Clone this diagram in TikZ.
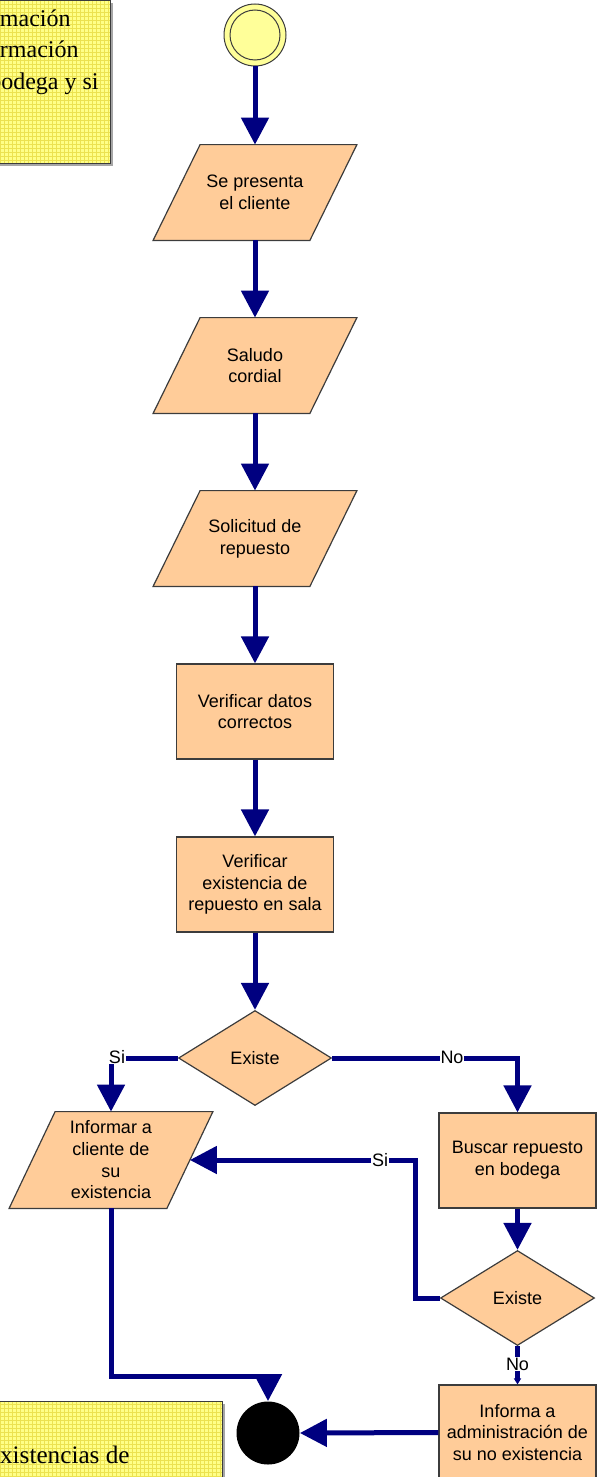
\documentclass[tikz,border=0pt]{standalone}
\usepackage{fontspec}
\setmainfont{Liberation Serif}
\setsansfont{Liberation Sans}
\usetikzlibrary{arrows.meta,shapes.geometric,backgrounds}

\definecolor{flowblue}{RGB}{0,0,128}
\definecolor{boxfill}{RGB}{255,204,153}
\definecolor{boxline}{RGB}{60,60,60}
\definecolor{notefill}{RGB}{255,255,135}
\definecolor{notegrid}{RGB}{236,226,80}
\definecolor{startfill}{RGB}{255,255,153}

\tikzset{
  boxfont/.style={font=\sffamily\fontsize{9}{10.85}\selectfont},
  stepbox/.style={rectangle, draw=boxline, line width=0.6pt, fill=boxfill,
    minimum width=78.5pt, minimum height=47.5pt, inner sep=0pt, align=center, boxfont},
  iobox/.style={rectangle, minimum width=78pt, minimum height=47.5pt,
    inner sep=0pt, align=center, boxfont},
  decision/.style={diamond, draw=boxline, line width=0.6pt, fill=boxfill,
    minimum width=76.5pt, minimum height=47.5pt, inner sep=0pt, boxfont},
  flowline/.style={draw=flowblue, line width=2.5pt},
  flow/.style={flowline, -{Triangle[width=13.5pt,length=13.5pt]}},
  flowsmall/.style={draw=flowblue, line width=2.2pt, -{Triangle[width=3.5pt,length=3pt]}},
  lbl/.style={fill=white, inner sep=0.4pt, boxfont},
  notetext/.style={inner sep=0pt, font=\fontsize{12}{14}\selectfont},
}

% slanted input/output frame drawn behind a rectangular text node
\newcommand\slantframe[2]{%
  \begin{pgfonlayer}{background}
    \filldraw[draw=boxline, line width=0.6pt, fill=boxfill]
      ([xshift=-#2]#1.south west) -- ([xshift=#2]#1.north west) --
      ([xshift=#2]#1.north east) -- ([xshift=-#2]#1.south east) -- cycle;
  \end{pgfonlayer}}

\begin{document}
\begin{tikzpicture}[x=0.5pt, y=-0.5pt]
\useasboundingbox (0,0) rectangle (597,1477);
\clip (0,0) rectangle (597,1477);

% notes
\fill[gray!70] (-40,3) rectangle (113,166);
\fill[notefill] (-40,0) rectangle (110,163);
\draw[notegrid, line width=0.25pt] (-40,0) grid[step=2pt] (110,163);
\draw[boxline, line width=0.4pt] (-40,0) rectangle (110,163);
\node[notetext, anchor=base east] (na) at (71,27) {mación};
\node[notetext, anchor=base east] (nb) at (79,58) {rmación};
\node[notetext, anchor=base east] (nc) at (99,90) {bodega y si};

\fill[gray!70] (-40,1404) rectangle (225,1500);
\fill[notefill] (-40,1401) rectangle (222,1500);
\draw[notegrid, line width=0.25pt] (-40,1401) grid[step=2pt] (222,1500);
\draw[boxline, line width=0.4pt] (-40,1401) rectangle (222,1500);
\node[notetext, font=\fontsize{12.6}{14}\selectfont, anchor=base east] (nd) at (130,1463) {xistencias de};

% start
\node[circle, draw=boxline, line width=0.5pt, fill=startfill, minimum size=31pt, inner sep=0pt] (start) at (255,35) {};
\node[circle, draw=boxline, line width=0.5pt, minimum size=25pt, inner sep=0pt] (startin) at (start) {};

% main column
\node[iobox] (p1) at (255,192.5) {Se presenta\\el cliente};
\slantframe{p1}{11.75pt}
\node[iobox] (p2) at (255,365.5) {Saludo\\cordial};
\slantframe{p2}{11.75pt}
\node[iobox] (p3) at (255,538.5) {Solicitud de\\repuesto};
\slantframe{p3}{11.75pt}
\node[stepbox] (r1) at (255,711.5) {Verificar datos\\correctos};
\node[stepbox] (r2) at (255,884.5) {Verificar\\existencia de\\repuesto en sala};
\node[decision] (d1) at (255,1058) {Existe};

% branches
\node[iobox, minimum width=78.5pt, minimum height=48pt] (p4) at (111,1160) {Informar a\\cliente de\\su\\existencia};
\slantframe{p4}{11.5pt}
\node[stepbox] (r3) at (517.5,1160.5) {Buscar repuesto\\en bodega};
\node[decision, minimum width=77pt] (d2) at (517.5,1298) {Existe};
\node[stepbox] (r4) at (517.5,1432.5) {Informa a\\administración de\\su no existencia};
\node[circle, fill=black, minimum size=31.5pt, inner sep=0pt] (stop) at (268,1433) {};

% connectors
\draw[flow] (start.south) -- (p1.north);
\draw[flow] (p1.south) -- (p2.north);
\draw[flow] (p2.south) -- (p3.north);
\draw[flow] (p3.south) -- (r1.north);
\draw[flow] (r1.south) -- (r2.north);
\draw[flow] (r2.south) -- (d1.north);

\draw[flow] (d1.west) -| (p4.north);
\node[lbl] (si1) at (117,1057) {Si};
\draw[flow] (d1.east) -| (r3.north);
\node[lbl] (no1) at (452,1057) {No};

\draw[flow] (r3.south) -- (d2.north);
\coordinate (bend) at (415,1160);
\draw[flow] (d2.west) -| (bend) -- (p4.east);
\node[lbl] (si2) at (380,1160) {Si};

\draw[flowsmall] (d2.south) -- (r4.north);
\node[lbl] (no2) at (517.5,1364) {No};

\draw[flow] (r4.west) -- (stop.east);
\coordinate (join) at (268,1376);
\draw[flowline] (p4.south) |- (join);
\draw[flow] (join) -- (stop.north);
\end{tikzpicture}
\end{document}
